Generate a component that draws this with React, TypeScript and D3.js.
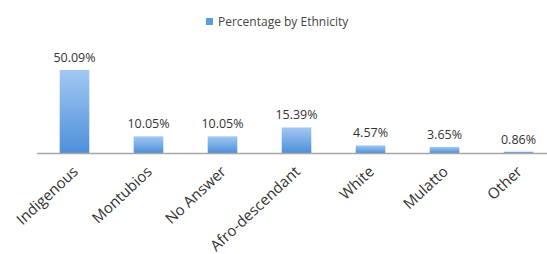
import React from 'react';
import * as d3 from 'd3';

const categories = ['Indigenous', 'Montubios', 'No Answer', 'Afro-descendant', 'White', 'Mulatto', 'Other'];
const values = [50.09, 10.05, 10.05, 15.39, 4.57, 3.65, 0.86];
const seriesName = 'Percentage by Ethnicity';

const width = 547;
const height = 254;
const baseY = 153;

export default function App() {
  const x = d3.scaleBand().domain(categories).range([37.5, 555.5]).paddingInner(0.6).paddingOuter(0.3);
  const y = d3.scaleLinear().domain([0, 50.09]).range([baseY, 70]);
  const font = '"Open Sans", sans-serif';

  return (
    <svg
      width={width}
      height={height}
      style={{ position: 'absolute', left: 0, top: 0, background: '#fff' }}
    >
      <defs>
        <linearGradient id="barGrad" x1="0" y1="0" x2="0" y2="1">
          <stop offset="0%" stopColor="#a2c8f3" />
          <stop offset="100%" stopColor="#4d8fd9" />
        </linearGradient>
      </defs>

      {/* legend */}
      <rect x={206} y={18} width={7} height={7} fill="#5b9be0" />
      <text x={218} y={26} fontFamily={font} fontSize={12} fill="#444">
        {seriesName}
      </text>

      {/* bars */}
      {categories.map((c, i) => (
        <g key={c}>
          <rect
            x={x(c)}
            y={y(values[i])}
            width={x.bandwidth()}
            height={baseY - y(values[i])}
            fill="url(#barGrad)"
          />
          <text
            x={(x(c) as number) + x.bandwidth() / 2}
            y={y(values[i]) - 8}
            textAnchor="middle"
            fontFamily={font}
            fontSize={12.5}
            fill="#333"
          >
            {values[i].toFixed(2)}%
          </text>
        </g>
      ))}

      {/* axis */}
      <line x1={37} x2={547} y1={baseY + 0.5} y2={baseY + 0.5} stroke="#a6a6a6" strokeWidth={1.5} />

      {categories.map((c) => {
        const cx = (x(c) as number) + x.bandwidth() / 2;
        return (
          <text
            key={c}
            transform={`translate(${cx + 1},${baseY + 16}) rotate(-43)`}
            textAnchor="end"
            dy="0.35em"
            fontFamily={font}
            fontSize={15}
            fill="#333"
          >
            {c}
          </text>
        );
      })}
    </svg>
  );
}
